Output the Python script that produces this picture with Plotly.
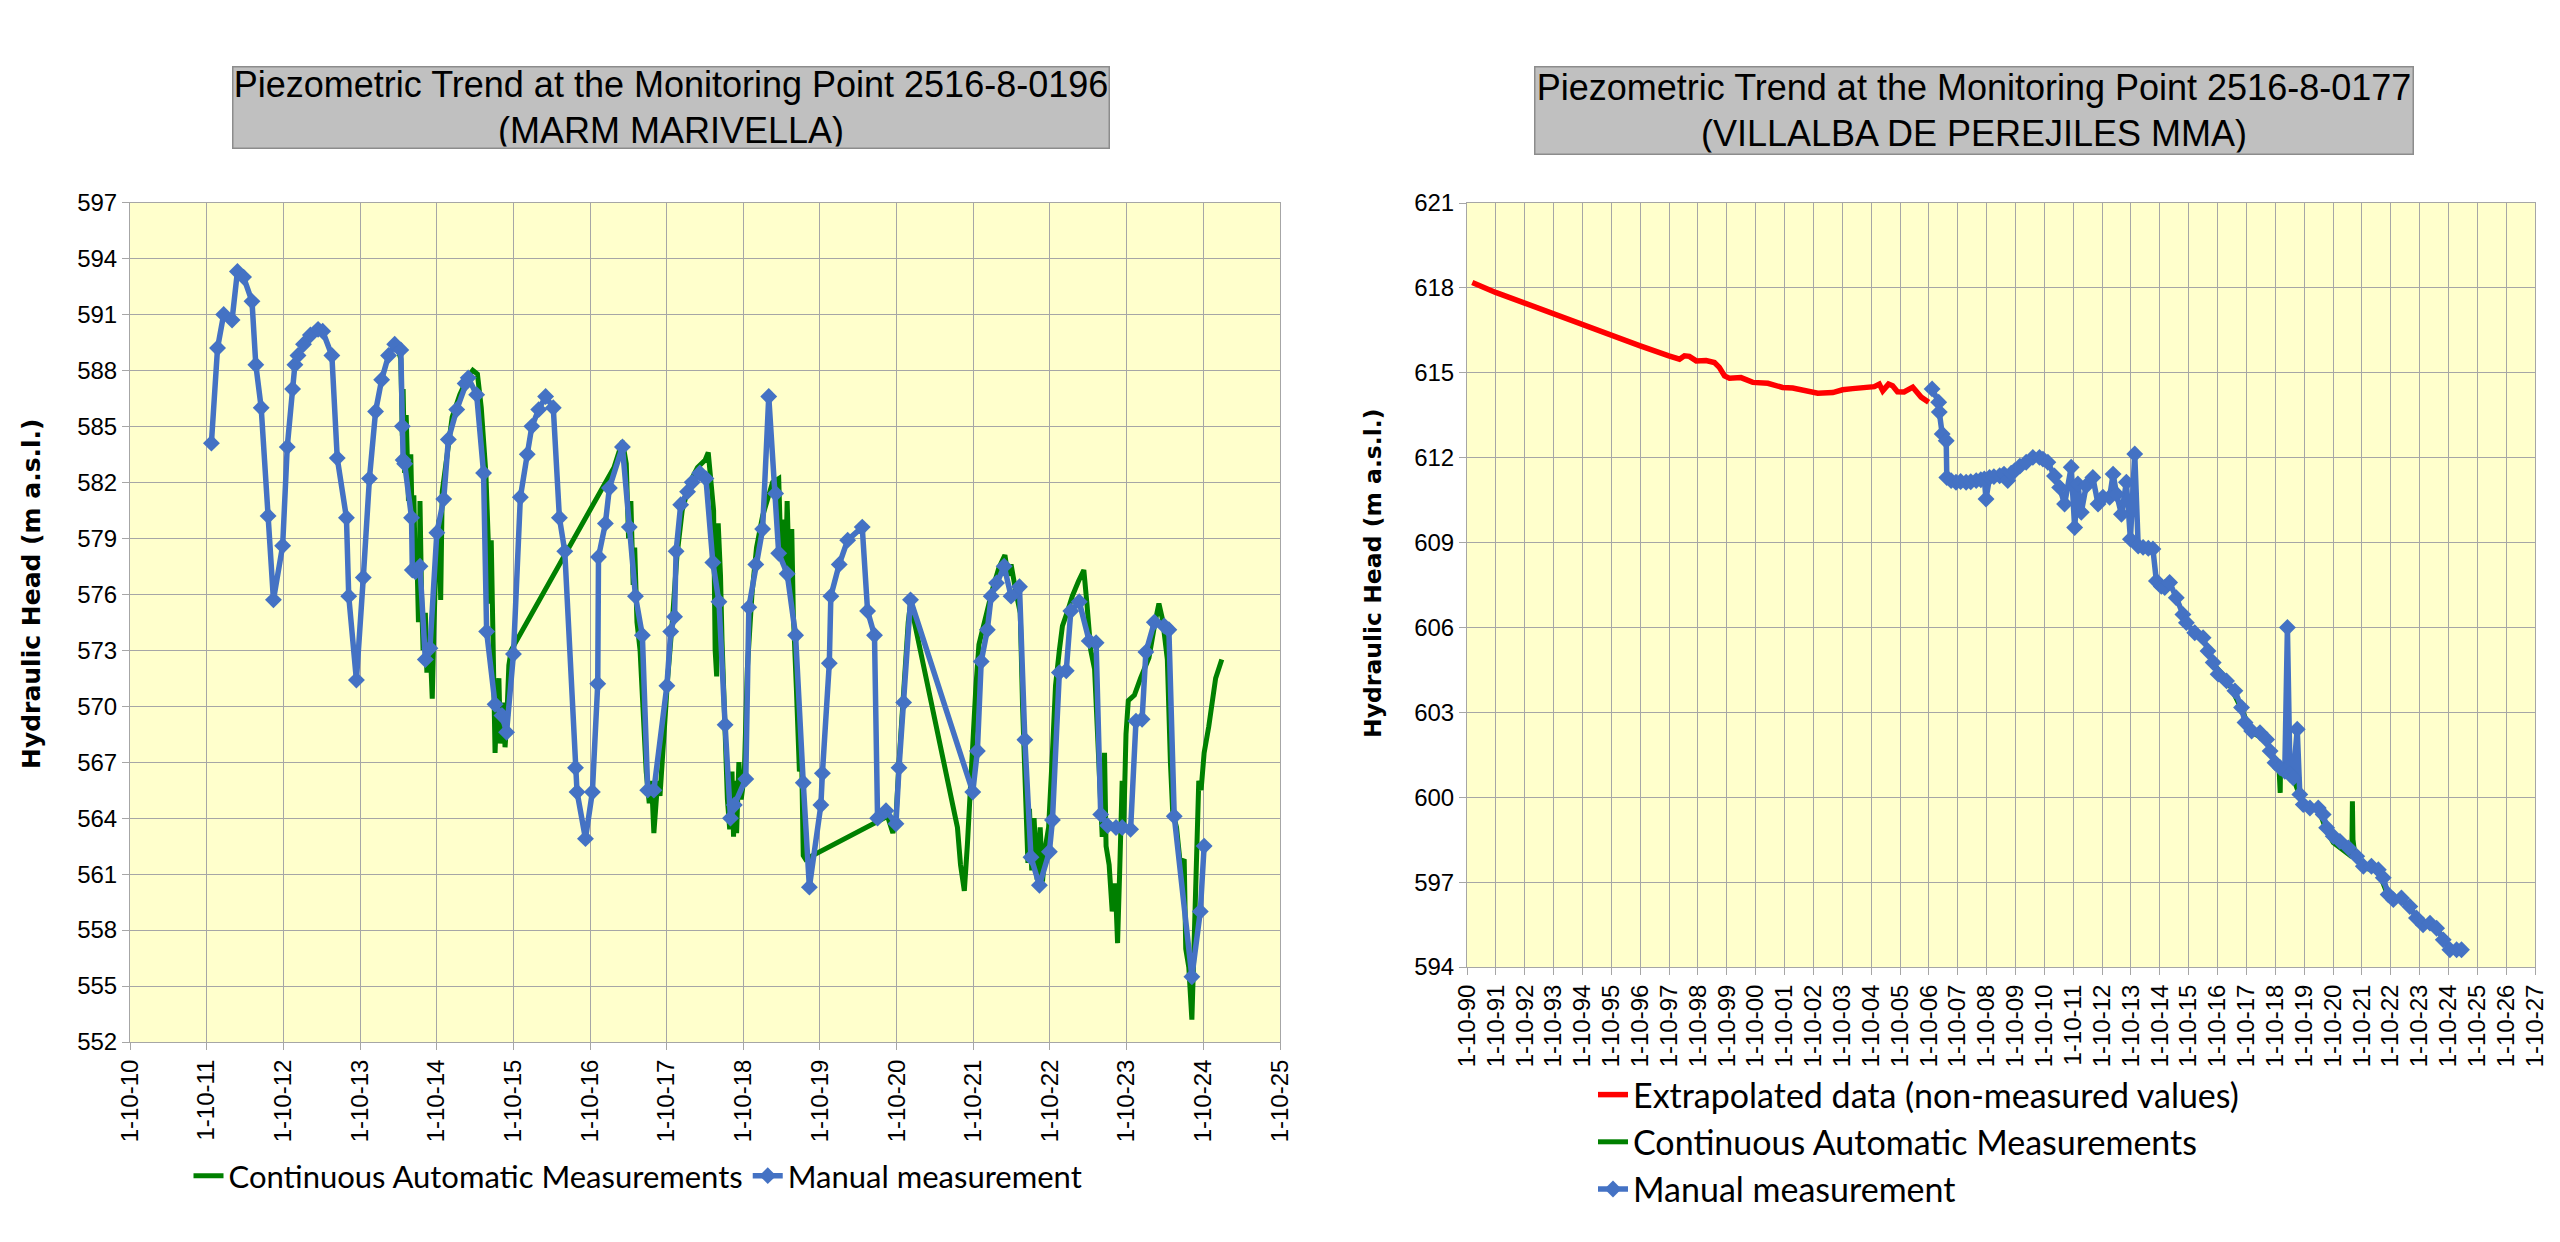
import pandas as pd
import plotly.graph_objects as go

# ---- data (decimal years, m a.s.l.) ----

# left: 2516-8-0196 (MARM MARIVELLA)
left_manual_t = [
    2011.81, 2011.89, 2011.97, 2012.08, 2012.15, 2012.23, 2012.34, 2012.39, 2012.46, 2012.55,
    2012.62, 2012.74, 2012.80, 2012.87, 2012.90, 2012.94, 2013.01, 2013.10, 2013.20, 2013.26,
    2013.38, 2013.45, 2013.57, 2013.60, 2013.70, 2013.79, 2013.87, 2013.95, 2014.03, 2014.12,
    2014.20, 2014.28, 2014.30, 2014.31, 2014.33, 2014.42, 2014.43, 2014.47, 2014.53, 2014.60,
    2014.66, 2014.75, 2014.84, 2014.90, 2015.01, 2015.12, 2015.16, 2015.27, 2015.36, 2015.40,
    2015.51, 2015.60, 2015.66, 2015.75, 2015.84, 2015.93, 2015.99, 2016.08, 2016.17, 2016.27,
    2016.35, 2016.42, 2016.56, 2016.58, 2016.69, 2016.78, 2016.85, 2016.86, 2016.95, 2017.00,
    2017.17, 2017.26, 2017.34, 2017.43, 2017.50, 2017.58, 2017.75, 2017.80, 2017.85, 2017.87,
    2017.93, 2018.02, 2018.08, 2018.18, 2018.26, 2018.35, 2018.43, 2018.51, 2018.58, 2018.63,
    2018.78, 2018.82, 2018.91, 2019.00, 2019.08, 2019.17, 2019.21, 2019.32, 2019.43, 2019.53,
    2019.61, 2019.76, 2019.78, 2019.87, 2019.89, 2020.00, 2020.11, 2020.30, 2020.37, 2020.46,
    2020.50, 2020.61, 2020.74, 2020.78, 2020.84, 2020.93, 2021.74, 2021.80, 2021.85, 2021.93,
    2021.98, 2022.05, 2022.15, 2022.24, 2022.35, 2022.42, 2022.50, 2022.61, 2022.74, 2022.78,
    2022.87, 2022.96, 2023.02, 2023.13, 2023.26, 2023.35, 2023.41, 2023.50, 2023.61, 2023.69,
    2023.80, 2023.87, 2023.95, 2024.00, 2024.11, 2024.24, 2024.30, 2024.37, 2024.60, 2024.71,
    2024.76,
]
left_manual_v = [
    584.1, 589.2, 591.0, 590.7, 593.3, 593.0, 591.7, 588.3, 586.0, 580.2,
    575.7, 578.6, 583.9, 587.0, 588.3, 588.8, 589.4, 589.9, 590.2, 590.1,
    588.8, 583.3, 580.1, 575.9, 571.4, 576.9, 582.2, 585.8, 587.5, 588.8,
    589.4, 589.1, 585.0, 583.2, 583.0, 580.1, 577.3, 577.2, 577.5, 572.5,
    573.1, 579.3, 581.1, 584.3, 585.9, 587.3, 587.6, 586.7, 582.5, 574.0,
    570.1, 569.5, 568.6, 572.8, 581.2, 583.5, 585.0, 585.9, 586.6, 586.0,
    580.1, 578.3, 566.7, 565.4, 562.9, 565.4, 571.2, 578.0, 579.8, 581.7,
    583.9, 579.6, 575.9, 573.8, 565.5, 565.5, 571.1, 574.0, 574.8, 578.3,
    580.8, 581.5, 582.0, 582.5, 582.2, 577.7, 575.6, 569.0, 564.0, 564.7,
    566.1, 575.3, 577.6, 579.5, 586.6, 581.4, 578.2, 577.1, 573.8, 565.9,
    560.3, 564.7, 566.4, 572.3, 575.9, 577.6, 578.9, 579.6, 575.1, 573.8,
    564.0, 564.4, 563.7, 566.7, 570.2, 575.7, 565.4, 567.6, 572.4, 574.1,
    575.9, 576.6, 577.5, 575.9, 576.4, 568.2, 561.9, 560.4, 562.2, 563.9,
    571.8, 571.9, 575.1, 575.6, 573.5, 573.4, 564.2, 563.6, 563.5, 563.5,
    563.4, 569.2, 569.3, 572.9, 574.5, 574.3, 574.1, 564.1, 555.5, 559.0,
    562.5,
]

left_auto_t = [
    2014.20, 2014.24, 2014.28, 2014.30, 2014.31, 2014.33, 2014.35, 2014.38, 2014.41, 2014.43,
    2014.45, 2014.47, 2014.49, 2014.51, 2014.52, 2014.53, 2014.55, 2014.57, 2014.60, 2014.62,
    2014.66, 2014.69, 2014.71, 2014.74, 2014.78, 2014.80, 2014.82, 2014.88, 2014.95, 2015.05,
    2015.15, 2015.22, 2015.28, 2015.33, 2015.36, 2015.39, 2015.42, 2015.44, 2015.46, 2015.48,
    2015.51, 2015.53, 2015.56, 2015.58, 2015.62, 2015.64, 2015.66, 2015.69, 2015.72,
    2017.06, 2017.12, 2017.17, 2017.22, 2017.25, 2017.28, 2017.31, 2017.33, 2017.36, 2017.40,
    2017.44, 2017.48, 2017.52, 2017.55, 2017.58, 2017.61, 2017.63, 2017.66, 2017.70, 2017.76,
    2017.82, 2017.88, 2017.95, 2018.05, 2018.15, 2018.25, 2018.29, 2018.33, 2018.36, 2018.38,
    2018.40, 2018.42, 2018.45, 2018.47, 2018.50, 2018.54, 2018.57, 2018.60, 2018.62, 2018.64,
    2018.66, 2018.69, 2018.72, 2018.76, 2018.80, 2018.86, 2018.92, 2019.00, 2019.08, 2019.13,
    2019.21, 2019.24, 2019.27, 2019.30, 2019.32, 2019.35, 2019.38, 2019.40, 2019.44, 2019.48,
    2019.51, 2019.53, 2019.56,
    2020.63, 2020.70, 2020.74, 2020.78, 2020.84, 2020.90, 2020.93,
    2021.54, 2021.58, 2021.63, 2021.67, 2021.71, 2021.74, 2021.78, 2021.82, 2021.88, 2021.93,
    2022.00, 2022.08, 2022.16, 2022.20, 2022.24, 2022.30, 2022.36, 2022.39, 2022.42, 2022.44,
    2022.46, 2022.48, 2022.51, 2022.54, 2022.58, 2022.62, 2022.65, 2022.69, 2022.73, 2022.78,
    2022.82, 2022.87, 2022.91, 2022.97, 2023.04, 2023.12, 2023.19, 2023.23, 2023.28, 2023.33,
    2023.38, 2023.43, 2023.46, 2023.48, 2023.52, 2023.56, 2023.60, 2023.63, 2023.66, 2023.69,
    2023.71, 2023.74, 2023.77, 2023.85, 2023.93, 2024.04, 2024.12, 2024.17, 2024.22, 2024.28,
    2024.32, 2024.35, 2024.40, 2024.45, 2024.50, 2024.52, 2024.56, 2024.60, 2024.62, 2024.64,
    2024.67, 2024.69, 2024.72, 2024.76, 2024.82, 2024.87, 2024.91, 2024.99,
]
left_auto_v = [
    589.4, 589.2, 588.6, 584.5, 587.0, 582.5, 585.6, 581.0, 583.5, 579.5,
    581.3, 577.0, 578.0, 574.5, 575.6, 581.0, 576.0, 573.0, 575.0, 571.8,
    573.5, 570.4, 574.0, 578.0, 580.0, 575.7, 581.5, 583.5, 585.5, 586.7,
    587.6, 588.0, 587.8, 586.0, 584.5, 582.5, 579.0, 575.5, 578.9, 572.5,
    567.5, 569.8, 571.5, 568.0, 570.2, 567.8, 569.0, 572.2, 573.0,
    582.8, 583.6, 584.2, 583.0, 579.0, 581.0, 576.5, 578.5, 574.5, 573.0,
    570.0, 566.5, 564.8, 566.0, 563.2, 564.6, 566.0, 565.2, 568.0, 571.5,
    574.5, 578.0, 580.5, 582.0, 582.8, 583.2, 583.6, 582.0, 580.5, 573.0,
    571.6, 579.8, 577.0, 573.5, 569.0, 565.0, 563.4, 566.5, 563.0, 566.0,
    563.2, 567.0, 565.0, 566.3, 572.0, 576.0, 578.5, 580.2, 581.3, 582.0,
    582.2, 578.0, 580.0, 577.0, 581.0, 576.5, 579.5, 575.0, 571.0, 566.5,
    567.0, 562.0, 561.8,
    564.1, 563.2, 564.0, 567.0, 571.0, 574.5, 575.5,
    563.5, 561.5, 560.1, 562.6, 566.1, 568.7, 571.0, 573.3, 574.3, 575.3,
    576.3, 577.4, 578.1, 577.0, 577.6, 576.2, 575.0, 570.0, 566.0, 563.0,
    561.6, 564.5, 561.2, 564.0, 560.7, 563.5, 560.6, 562.5, 563.5, 567.5,
    571.1, 573.0, 574.3, 575.0, 575.9, 576.7, 577.3, 575.5, 573.0, 572.0,
    568.0, 563.0, 567.5, 562.5, 561.5, 559.0, 560.5, 557.3, 561.5, 566.0,
    563.5, 568.5, 570.3, 570.6, 571.5, 572.6, 574.5, 575.5, 574.6, 572.5,
    567.0, 564.3, 563.5, 561.5, 561.8, 557.0, 556.0, 553.2, 556.0, 559.5,
    563.0, 566.0, 565.5, 567.5, 568.9, 570.5, 571.5, 572.5,
]

# right: 2516-8-0177 (VILLALBA DE PEREJILES MMA)
right_extra_t = [
    1990.93, 1991.74, 1992.75, 1993.75, 1994.74, 1995.74, 1996.75, 1997.74, 1998.11, 1998.28,
    1998.45, 1998.69, 1999.03, 1999.32, 1999.49, 1999.67, 1999.84, 2000.24, 2000.65, 2001.17,
    2001.68, 2002.03, 2002.49, 2002.90, 2003.42, 2003.76, 2004.11, 2004.45, 2004.86, 2005.03,
    2005.15, 2005.35, 2005.49, 2005.66, 2005.89, 2006.19, 2006.48, 2006.74,
]
right_extra_v = [
    618.19, 617.84, 617.46, 617.07, 616.71, 616.33, 615.95, 615.60, 615.48, 615.60,
    615.58, 615.42, 615.43, 615.36, 615.19, 614.89, 614.81, 614.83, 614.66, 614.63,
    614.48, 614.46, 614.36, 614.28, 614.30, 614.40, 614.44, 614.48, 614.51, 614.60,
    614.36, 614.60, 614.54, 614.33, 614.32, 614.49, 614.14, 613.96,
]

right_auto_t = [
    2016.60, 2017.06, 2017.58, 2017.93, 2018.45, 2018.74, 2018.88, 2018.90, 2018.92, 2018.93,
    2019.10, 2019.40, 2019.72, 2020.24, 2020.53, 2020.76, 2021.00, 2021.40, 2021.42, 2021.44,
    2021.50, 2021.60, 2021.80, 2022.32, 2022.66, 2023.12, 2023.41, 2023.87, 2024.34, 2024.57,
]
right_auto_v = [
    604.7, 604.2, 603.1, 602.3, 602.0, 601.2, 601.0, 600.15, 600.15, 601.0,
    600.9, 600.6, 599.7, 599.6, 598.8, 598.4, 598.2, 597.9, 599.86, 598.5,
    598.0, 597.8, 597.5, 597.4, 596.5, 596.4, 596.1, 595.5, 595.4, 595.0,
]

right_manual_t = [
    2006.86, 2007.09, 2007.11, 2007.21, 2007.35, 2007.37, 2007.52, 2007.69, 2007.85, 2008.04,
    2008.20, 2008.39, 2008.55, 2008.67, 2008.73, 2008.85, 2009.00, 2009.20, 2009.35, 2009.48,
    2009.60, 2009.72, 2009.90, 2010.12, 2010.35, 2010.58, 2010.70, 2010.87, 2011.10, 2011.28,
    2011.45, 2011.68, 2011.80, 2011.91, 2012.03, 2012.20, 2012.43, 2012.61, 2012.78, 2013.01,
    2013.13, 2013.25, 2013.42, 2013.59, 2013.73, 2013.88, 2014.00, 2014.17, 2014.35, 2014.51,
    2014.63, 2014.80, 2014.92, 2015.09, 2015.32, 2015.55, 2015.67, 2015.96, 2016.25, 2016.42,
    2016.60, 2016.77, 2017.06, 2017.35, 2017.58, 2017.70, 2017.93, 2018.22, 2018.45, 2018.57,
    2018.74, 2018.92, 2019.08, 2019.17, 2019.26, 2019.37, 2019.51, 2019.60, 2019.72, 2019.95,
    2020.24, 2020.41, 2020.53, 2020.76, 2020.99, 2021.28, 2021.57, 2021.80, 2022.08, 2022.32,
    2022.49, 2022.66, 2022.84, 2023.12, 2023.41, 2023.64, 2023.87, 2024.11, 2024.34, 2024.57,
    2024.80, 2025.03, 2025.20,
]
right_manual_v = [
    614.43, 613.96, 613.61, 612.84, 612.60, 611.30, 611.19, 611.13, 611.16, 611.13,
    611.15, 611.19, 611.22, 611.25, 610.54, 611.30, 611.33, 611.36, 611.42, 611.19,
    611.45, 611.54, 611.70, 611.84, 612.01, 612.01, 611.95, 611.84, 611.35, 610.95,
    610.36, 611.66, 609.53, 611.07, 610.07, 611.01, 611.30, 610.36, 610.60, 610.60,
    611.42, 610.71, 610.00, 611.13, 609.12, 612.13, 608.88, 608.83, 608.80, 608.77,
    607.64, 607.45, 607.41, 607.59, 607.05, 606.46, 606.17, 605.81, 605.64, 605.17,
    604.76, 604.35, 604.11, 603.76, 603.17, 602.64, 602.34, 602.28, 602.04, 601.63,
    601.22, 601.04, 600.92, 606.00, 600.81, 600.69, 602.40, 600.10, 599.74, 599.62,
    599.62, 599.39, 598.92, 598.62, 598.44, 598.21, 597.91, 597.56, 597.56, 597.44,
    597.15, 596.56, 596.38, 596.44, 596.14, 595.73, 595.49, 595.55, 595.37, 594.96,
    594.61, 594.61, 594.61,
]


def to_dates(years):
    out = []
    for y in years:
        base = pd.Timestamp(int(y), 1, 1)
        out.append(base + pd.Timedelta(days=(y - int(y)) * 365.25))
    return out


W, H = 2560, 1242
BLUE = "#4472C4"
GREEN = "#008000"
RED = "#FF0000"
GRID = "#a6a6a6"
TICKFONT = dict(family="Liberation Sans, Arial", size=24, color="black")
LEGFONT = dict(family="Lato", size=31, color="black")
LEGFONT2 = dict(family="Lato", size=34, color="black")

fig = go.Figure()

# left chart
fig.add_trace(go.Scatter(x=to_dates(left_auto_t), y=left_auto_v, mode="lines",
                         name="Continuous Automatic Measurements",
                         line=dict(color=GREEN, width=5),
                         xaxis="x", yaxis="y", legend="legend"))
fig.add_trace(go.Scatter(x=to_dates(left_manual_t), y=left_manual_v, mode="lines+markers",
                         name="Manual measurement",
                         line=dict(color=BLUE, width=5.5),
                         marker=dict(symbol="diamond", size=13, color=BLUE),
                         xaxis="x", yaxis="y", legend="legend"))

# right chart
fig.add_trace(go.Scatter(x=to_dates(right_extra_t), y=right_extra_v, mode="lines",
                         name="Extrapolated data (non-measured values)",
                         line=dict(color=RED, width=5.5),
                         xaxis="x2", yaxis="y2", legend="legend2"))
fig.add_trace(go.Scatter(x=to_dates(right_auto_t), y=right_auto_v, mode="lines",
                         name="Continuous Automatic Measurements",
                         line=dict(color=GREEN, width=5),
                         xaxis="x2", yaxis="y2", legend="legend2"))
fig.add_trace(go.Scatter(x=to_dates(right_manual_t), y=right_manual_v, mode="lines+markers",
                         name="Manual measurement",
                         line=dict(color=BLUE, width=5.5),
                         marker=dict(symbol="diamond", size=13, color=BLUE),
                         xaxis="x2", yaxis="y2", legend="legend2"))

xcommon = dict(type="date", dtick="M12", tickformat="%-d-%-m-%y", tickangle=-90,
               showgrid=True, gridcolor=GRID, gridwidth=1,
               showline=True, linecolor=GRID, mirror=True,
               ticks="outside", ticklen=7, tickcolor=GRID,
               tickfont=TICKFONT, zeroline=False, automargin=False)
ycommon = dict(dtick=3, showgrid=True, gridcolor=GRID, gridwidth=1,
               showline=True, linecolor=GRID, mirror=True,
               ticks="outside", ticklen=7, tickcolor=GRID,
               tickfont=TICKFONT, zeroline=False, automargin=False)

fig.update_layout(
    width=W, height=H,
    margin=dict(l=0, r=0, t=0, b=0, autoexpand=False),
    paper_bgcolor="white",
    plot_bgcolor="#FFFFCC",
    xaxis=dict(xcommon, domain=[122 / W, 1272 / W], anchor="y",
               range=["2010-10-01", "2025-10-01"], tick0="2010-10-01"),
    yaxis=dict(ycommon, domain=[1 - 1034 / H, 1 - 194.5 / H], anchor="x",
               range=[552, 597], tick0=552),
    xaxis2=dict(xcommon, domain=[1459 / W, 2527 / W], anchor="y2",
                range=["1990-10-01", "2027-10-01"], tick0="1990-10-01"),
    yaxis2=dict(ycommon, domain=[1 - 959 / H, 1 - 195 / H], anchor="x2",
                range=[594, 621], tick0=594),
    legend=dict(orientation="h", x=630 / W, xanchor="center", y=1 - 1168 / H,
                yanchor="middle", font=LEGFONT, bgcolor="rgba(0,0,0,0)",
                itemwidth=30),
    legend2=dict(orientation="v", x=1585 / W, xanchor="left", y=1 - 1058 / H,
                 yanchor="top", font=LEGFONT2, bgcolor="rgba(0,0,0,0)",
                 itemwidth=30, tracegroupgap=0),
    showlegend=True,
)

# title boxes
title_font = dict(family="Liberation Sans, Arial", size=36, color="black")
fig.add_annotation(text="Piezometric Trend at the Monitoring Point 2516-8-0196<br>(MARM MARIVELLA)",
                   x=663 / W, y=1 - 99 / H, xref="paper", yref="paper",
                   xanchor="center", yanchor="middle",
                   showarrow=False, font=title_font, align="center",
                   width=873, height=78, bgcolor="#C0C0C0",
                   bordercolor="#8c8c8c", borderwidth=1.5, borderpad=1)
fig.add_annotation(text="Piezometric Trend at the Monitoring Point 2516-8-0177<br>(VILLALBA DE PEREJILES MMA)",
                   x=1966 / W, y=1 - 102 / H, xref="paper", yref="paper",
                   xanchor="center", yanchor="middle",
                   showarrow=False, font=title_font, align="center",
                   width=875, height=84, bgcolor="#C0C0C0",
                   bordercolor="#8c8c8c", borderwidth=1.5, borderpad=1)

# y axis titles
fig.add_annotation(text="<b>Hydraulic Head (m a.s.l.)</b>", x=23 / W, y=1 - 586 / H,
                   xref="paper", yref="paper", xanchor="center", yanchor="middle",
                   showarrow=False, textangle=-90,
                   font=dict(family="DejaVu Sans", size=25, color="black"))
fig.add_annotation(text="<b>Hydraulic Head (m a.s.l.)</b>", x=1365 / W, y=1 - 565 / H,
                   xref="paper", yref="paper", xanchor="center", yanchor="middle",
                   showarrow=False, textangle=-90,
                   font=dict(family="DejaVu Sans", size=23.5, color="black"))

fig.write_html("out.html")
